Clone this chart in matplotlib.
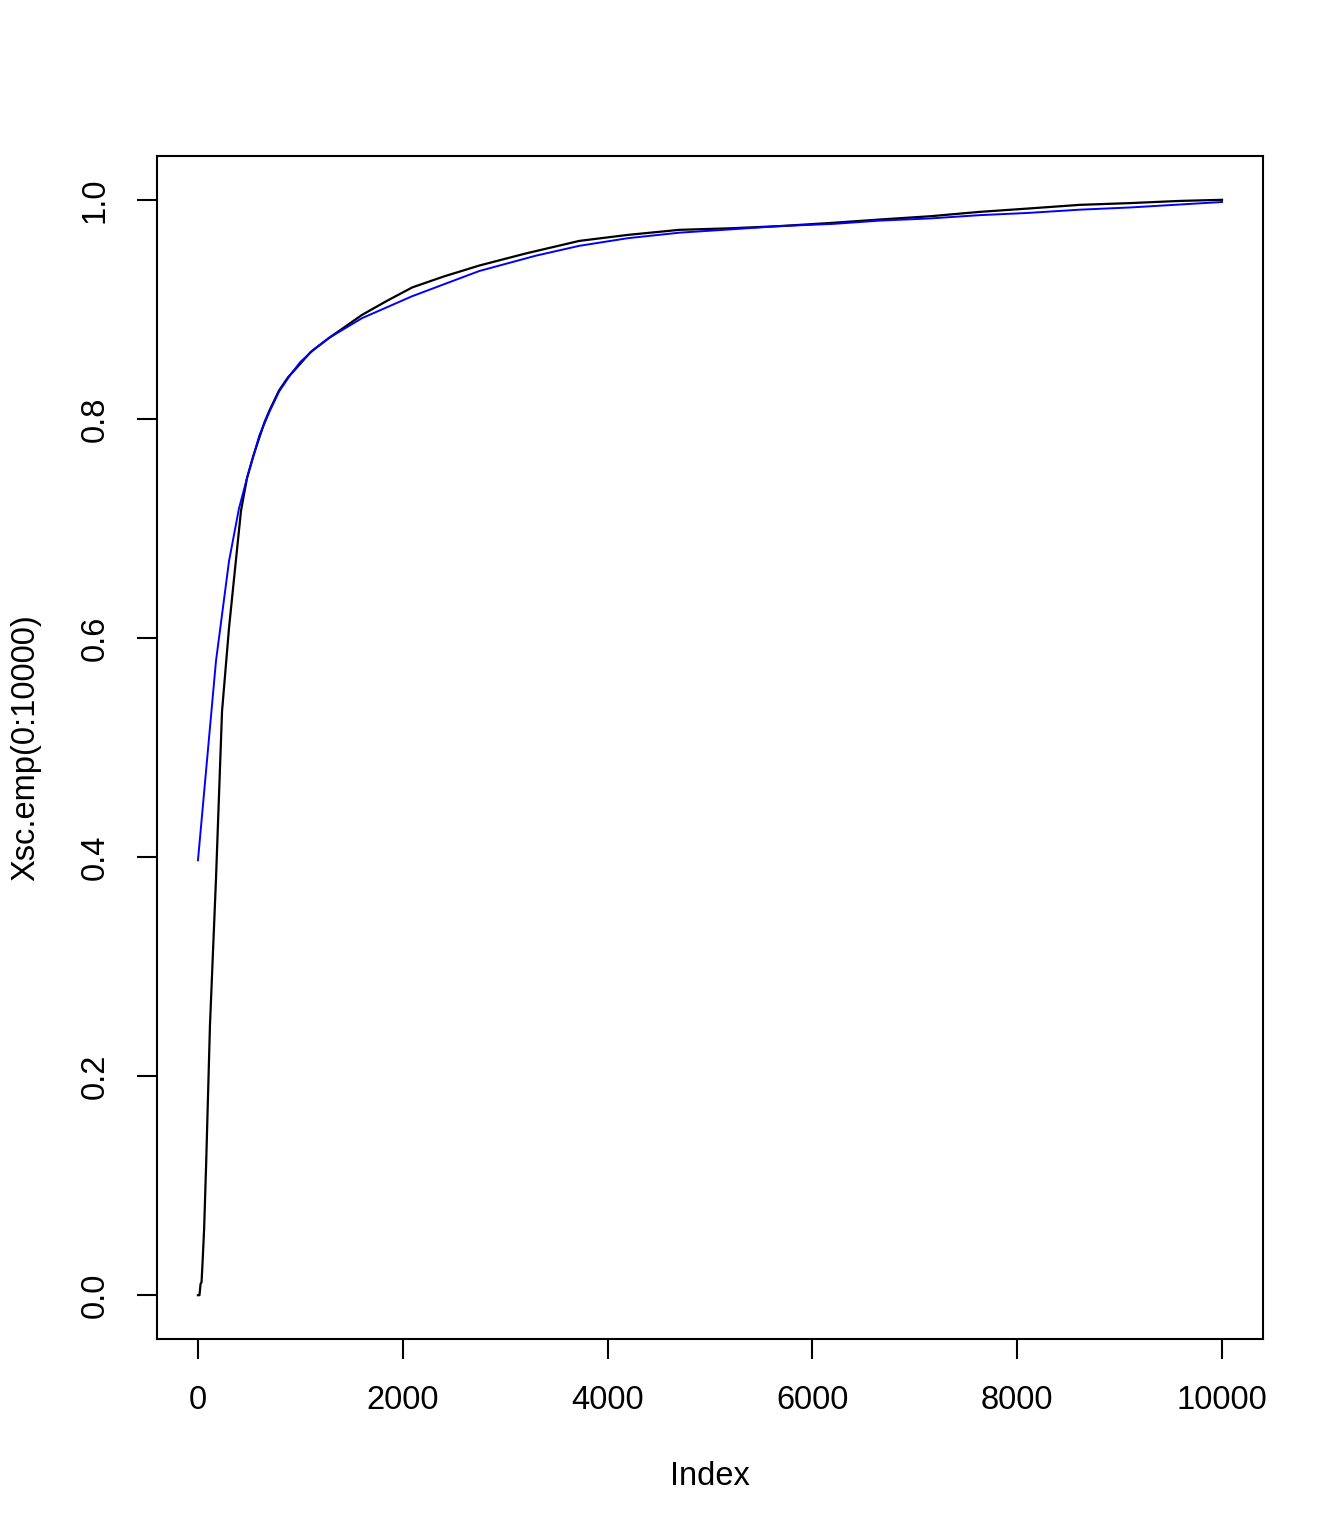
import matplotlib
matplotlib.use("Agg")
import matplotlib.pyplot as plt

plt.rcParams['font.family'] = ['Liberation Sans', 'DejaVu Sans']

# empirical curve (black)
emp_x = [0, 15, 25, 35, 45, 60, 80, 117, 176, 235, 303, 352, 420, 479, 540, 596, 650,
         700, 792, 880, 958, 1100, 1281, 1450, 1603, 1850, 2092, 2400, 2747, 3200, 3724,
         4200, 4702, 5200, 5679, 6200, 6657, 7150, 7634, 8100, 8612, 9100, 9590, 10000]
emp_y = [0.0, 0.0, 0.010, 0.012, 0.030, 0.060, 0.120, 0.246, 0.380, 0.533, 0.609, 0.654,
         0.716, 0.746, 0.766, 0.782, 0.797, 0.808, 0.826, 0.838, 0.846, 0.861, 0.874,
         0.885, 0.895, 0.908, 0.920, 0.930, 0.940, 0.951, 0.9625, 0.968, 0.9726, 0.974,
         0.976, 0.979, 0.982, 0.985, 0.989, 0.992, 0.9954, 0.997, 0.999, 1.0]

# fitted curve (blue)
fit_x = [0, 176, 303, 400, 479, 600, 700, 792, 900, 1000, 1140, 1281, 1603, 2092, 2747,
         3300, 3724, 4200, 4702, 5200, 5679, 6200, 6657, 7150, 7634, 8100, 8612, 9100,
         10000]
fit_y = [0.397, 0.579, 0.670, 0.718, 0.746, 0.785, 0.807, 0.825, 0.840, 0.852, 0.864,
         0.874, 0.892, 0.912, 0.935, 0.949, 0.958, 0.965, 0.970, 0.973, 0.976, 0.978,
         0.981, 0.983, 0.986, 0.988, 0.991, 0.993, 0.998]

xticks = [0, 2000, 4000, 6000, 8000, 10000]
yticks = [0.0, 0.2, 0.4, 0.6, 0.8, 1.0]

fig = plt.figure(figsize=(13.44, 15.36), dpi=100)
ax = fig.add_axes([157 / 1344, 197 / 1536, 1106 / 1344, 1183 / 1536])

ax.plot(emp_x, emp_y, color='black', linewidth=1.6)
ax.plot(fit_x, fit_y, color='blue', linewidth=1.4)

ax.set_xlim(-400, 10400)
ax.set_ylim(-0.04, 1.04)
ax.set_xticks(xticks)
ax.set_xticklabels([str(t) for t in xticks])
ax.set_yticks(yticks)
ax.set_yticklabels([f"{t:.1f}" for t in yticks], rotation=90, va='center')

for s in ax.spines.values():
    s.set_linewidth(1.5)
ax.tick_params(axis='both', length=14.4, width=1.5, labelsize=23.5, pad=19)

ax.set_xlabel("Index", fontsize=23.5, va='center')
ax.xaxis.set_label_coords(0.5, -0.116)
ax.set_ylabel("Xsc.emp(0:10000)", fontsize=23.5, va='center')
ax.yaxis.set_label_coords(-0.119, 0.5)

fig.savefig("out.png", dpi=100)
